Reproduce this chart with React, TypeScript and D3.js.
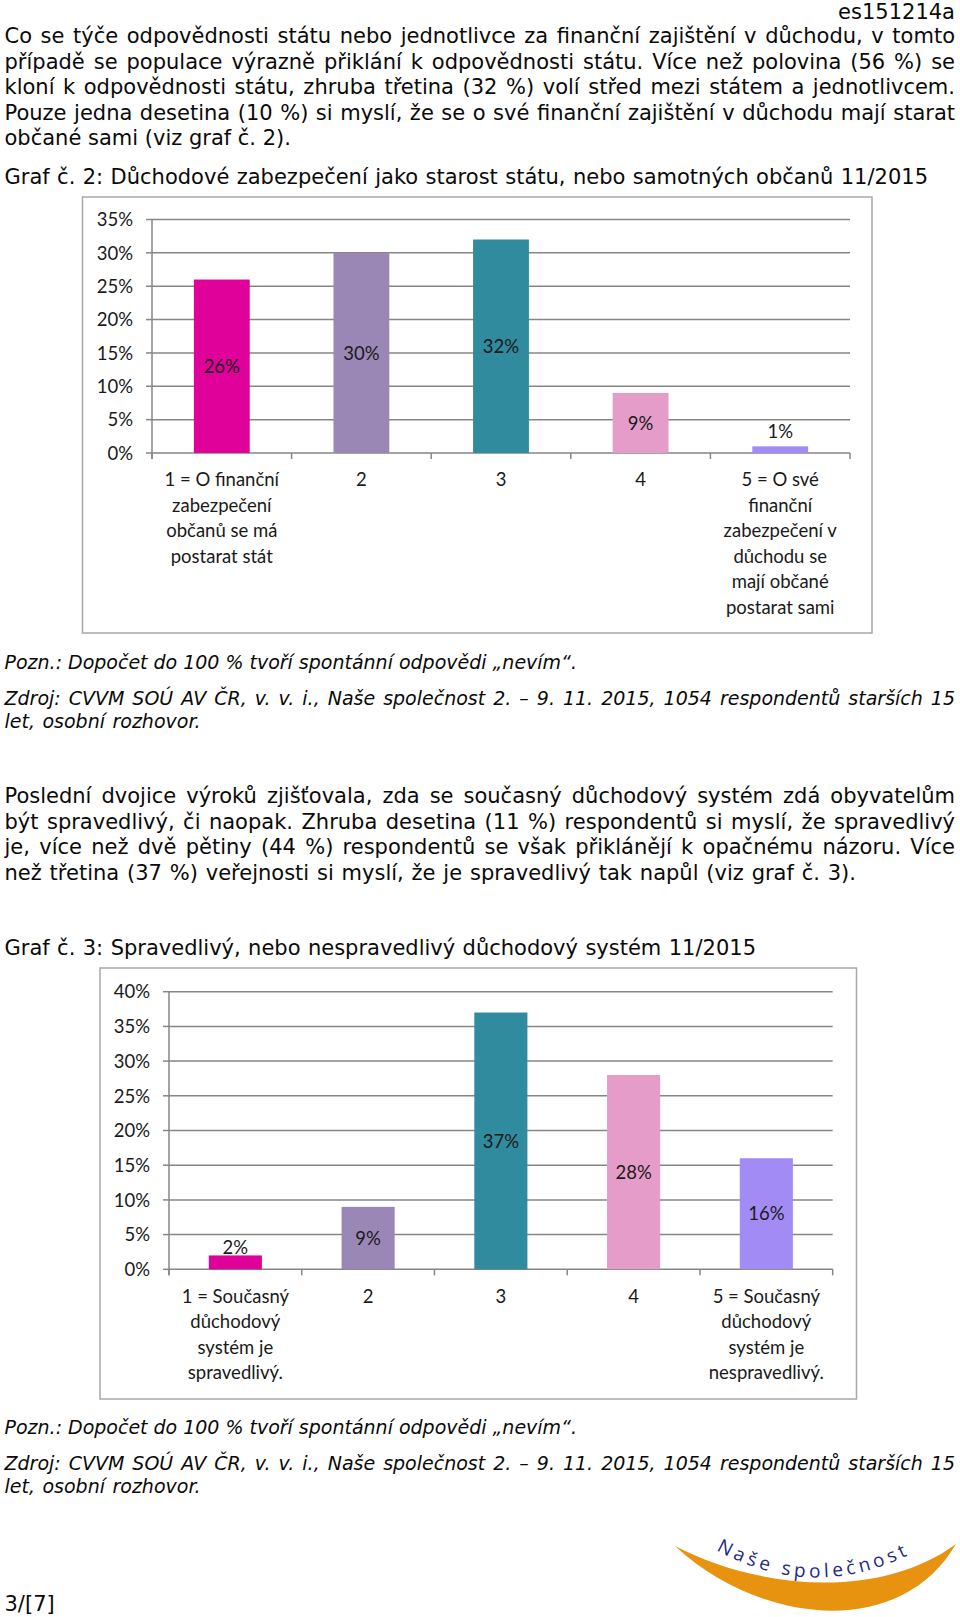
import React, { useEffect, useRef } from 'react';
import * as d3 from 'd3';

// --- text content ---
const docId = 'es151214a';
const para1 = [
  'Co se týče odpovědnosti státu nebo jednotlivce za finanční zajištění v důchodu, v tomto',
  'případě se populace výrazně přiklání k odpovědnosti státu. Více než polovina (56 %) se',
  'kloní k odpovědnosti státu, zhruba třetina (32 %) volí střed mezi státem a jednotlivcem.',
  'Pouze jedna desetina (10 %) si myslí, že se o své finanční zajištění v důchodu mají starat',
  'občané sami (viz graf č. 2).',
];
const para2 = [
  'Poslední dvojice výroků zjišťovala, zda se současný důchodový systém zdá obyvatelům',
  'být spravedlivý, či naopak. Zhruba desetina (11 %) respondentů si myslí, že spravedlivý',
  'je, více než dvě pětiny (44 %) respondentů se však přiklánějí k opačnému názoru. Více',
  'než třetina (37 %) veřejnosti si myslí, že je spravedlivý tak napůl (viz graf č. 3).',
];
const noteText = 'Pozn.: Dopočet do 100 % tvoří spontánní odpovědi „nevím“.';
const sourceText = [
  'Zdroj: CVVM SOÚ AV ČR, v. v. i., Naše společnost 2. – 9. 11. 2015, 1054 respondentů starších 15',
  'let, osobní rozhovor.',
];
const pageNo = '3/[7]';
const logoText = 'Naše společnost';

// --- chart 2 data ---
const g2Title = 'Graf č. 2: Důchodové zabezpečení jako starost státu, nebo samotných občanů 11/2015';
const g2Categories = [
  ['1 = O finanční', 'zabezpečení', 'občanů se má', 'postarat stát'],
  ['2'],
  ['3'],
  ['4'],
  ['5 = O své', 'finanční', 'zabezpečení v', 'důchodu se', 'mají občané', 'postarat sami'],
];
const g2Values = [26, 30, 32, 9, 1];
const g2Ticks = [0, 5, 10, 15, 20, 25, 30, 35];

// --- chart 3 data ---
const g3Title = 'Graf č. 3: Spravedlivý, nebo nespravedlivý důchodový systém 11/2015';
const g3Categories = [
  ['1 = Současný', 'důchodový', 'systém je', 'spravedlivý.'],
  ['2'],
  ['3'],
  ['4'],
  ['5 = Současný', 'důchodový', 'systém je', 'nespravedlivý.'],
];
const g3Values = [2, 9, 37, 28, 16];
const g3Ticks = [0, 5, 10, 15, 20, 25, 30, 35, 40];

const barColors = ['#E0009A', '#9B87B5', '#318B9E', '#E59CC9', '#A38BF6'];

const bodyFont = '"DejaVu Sans", Verdana, sans-serif';
const chartFont = 'Lato, Calibri, sans-serif';

// stretch a line to a given width (justified text)
function fitLine(sel, width) {
  const natural = sel.node().getComputedTextLength();
  const spaces = (sel.text().match(/ /g) || []).length;
  if (spaces > 0) sel.style('word-spacing', `${(width - natural) / spaces}px`);
}

function drawChart(svg, cfg) {
  const g = svg.append('g');
  g.append('rect')
    .attr('x', cfg.frame[0]).attr('y', cfg.frame[1])
    .attr('width', cfg.frame[2] - cfg.frame[0]).attr('height', cfg.frame[3] - cfg.frame[1])
    .attr('fill', '#fff').attr('stroke', '#a8a8a8').attr('stroke-width', 1.5);

  const maxT = d3.max(cfg.ticks);
  const y = d3.scaleLinear().domain([0, maxT]).range([cfg.y0, cfg.yTop]);
  const x = d3.scaleBand()
    .domain(cfg.values.map((_, i) => i))
    .range([cfg.xLeft, cfg.xRight])
    .paddingInner(0.6)
    .paddingOuter(0.3);
  const step = (cfg.xRight - cfg.xLeft) / cfg.values.length;

  // gridlines
  g.selectAll('.grid').data(cfg.ticks.filter(t => t > 0)).enter().append('line')
    .attr('x1', cfg.xLeft).attr('x2', cfg.xRight)
    .attr('y1', d => y(d)).attr('y2', d => y(d))
    .attr('stroke', '#868686').attr('stroke-width', 1.5);

  // y axis + ticks
  g.append('line').attr('x1', cfg.xLeft).attr('x2', cfg.xLeft)
    .attr('y1', y(maxT)).attr('y2', cfg.y0 + 6)
    .attr('stroke', '#868686').attr('stroke-width', 1.5);
  g.selectAll('.ytick').data(cfg.ticks).enter().append('line')
    .attr('x1', cfg.xLeft - 6).attr('x2', cfg.xLeft)
    .attr('y1', d => y(d)).attr('y2', d => y(d))
    .attr('stroke', '#868686').attr('stroke-width', 1.5);
  g.selectAll('.ylab').data(cfg.ticks).enter().append('text')
    .attr('x', cfg.labelX).attr('y', d => y(d) + 6.7)
    .attr('text-anchor', 'end')
    .attr('font-family', chartFont).attr('font-size', 18.5).attr('fill', '#1a1a1a')
    .text(d => `${d}%`);

  // x axis + ticks
  g.append('line').attr('x1', cfg.xLeft).attr('x2', cfg.xRight)
    .attr('y1', cfg.y0).attr('y2', cfg.y0)
    .attr('stroke', '#868686').attr('stroke-width', 1.5);
  g.selectAll('.xtick').data(d3.range(cfg.values.length + 1)).enter().append('line')
    .attr('x1', i => cfg.xLeft + i * step).attr('x2', i => cfg.xLeft + i * step)
    .attr('y1', cfg.y0).attr('y2', cfg.y0 + 6)
    .attr('stroke', '#868686').attr('stroke-width', 1.5);

  // bars
  g.selectAll('.bar').data(cfg.values).enter().append('rect')
    .attr('x', (_, i) => x(i))
    .attr('y', d => y(d))
    .attr('width', x.bandwidth())
    .attr('height', d => cfg.y0 - y(d))
    .attr('fill', (_, i) => barColors[i]);

  // data labels
  g.selectAll('.dlab').data(cfg.values).enter().append('text')
    .attr('x', (_, i) => x(i) + x.bandwidth() / 2)
    .attr('y', d => (cfg.y0 - y(d) > 25 ? (y(d) + cfg.y0) / 2 + 6.7 : y(d) - cfg.aboveGap))
    .attr('text-anchor', 'middle')
    .attr('font-family', chartFont).attr('font-size', 18.5).attr('fill', '#1a1a1a')
    .text(d => `${d}%`);

  // category labels
  cfg.categories.forEach((lines, i) => {
    const t = g.append('text')
      .attr('text-anchor', 'middle')
      .attr('font-family', chartFont).attr('font-size', 18.5).attr('fill', '#1a1a1a');
    lines.forEach((ln, k) => {
      t.append('tspan')
        .attr('x', x(i) + x.bandwidth() / 2)
        .attr('y', cfg.catY + k * 25.6)
        .text(ln);
    });
  });
}

const App = () => {
  const ref = useRef(null);

  useEffect(() => {
    document.body.style.margin = '0';
    const svg = d3.select(ref.current);
    svg.selectAll('*').remove();

    svg.append('rect').attr('width', 960).attr('height', 1617).attr('fill', '#fff');

    const line = (txt, xPos, yPos, width, opts = {}) => {
      const t = svg.append('text')
        .attr('x', xPos).attr('y', yPos)
        .attr('font-family', bodyFont).attr('font-size', opts.size || 21).attr('fill', '#0a0a0a')
        .attr('text-anchor', opts.anchor || 'start')
        .attr('font-style', opts.italic ? 'italic' : 'normal')
        .text(txt);
      if (width) fitLine(t, width);
      return t;
    };

    line(docId, 955, 18.5, null, { anchor: 'end' });
    para1.forEach((l, i) => line(l, 4.5, 43 + i * 25.5, i < 4 ? 950.5 : null));
    line(g2Title, 4.5, 184, 923.5, { size: 21 });

    drawChart(svg, {
      frame: [82.5, 197, 872, 633],
      xLeft: 152, xRight: 850, y0: 453, yTop: 219.5,
      labelX: 133, catY: 486, aboveGap: 8,
      ticks: g2Ticks, values: g2Values, categories: g2Categories,
    });

    line(noteText, 4.5, 669, 572.5, { italic: true, size: 19 });
    line(sourceText[0], 4.5, 705, 950.5, { italic: true, size: 19 });
    line(sourceText[1], 4.5, 728, 196, { italic: true, size: 19 });

    para2.forEach((l, i) => line(l, 4.5, 803 + i * 25.5, i < 3 ? 950.5 : 851.5));
    line(g3Title, 4.5, 955, 751.5, { size: 21 });

    drawChart(svg, {
      frame: [100, 968, 856.5, 1399],
      xLeft: 169, xRight: 832.7, y0: 1269.3, yTop: 991.7,
      labelX: 150, catY: 1302.5, aboveGap: 1.7,
      ticks: g3Ticks, values: g3Values, categories: g3Categories,
    });

    line(noteText, 4.5, 1434, 572.5, { italic: true, size: 19 });
    line(sourceText[0], 4.5, 1470, 950.5, { italic: true, size: 19 });
    line(sourceText[1], 4.5, 1493, 196, { italic: true, size: 19 });

    line(pageNo, 4.5, 1611, null);

    // logo: orange crescent with text on an arc
    const logo = svg.append('g');
    logo.append('path')
      .attr('d', 'M675,1546 C760,1590 880,1600 956,1544 C900,1640 760,1625 675,1546 Z')
      .attr('fill', '#E8930F');
    logo.append('path').attr('id', 'logoArc')
      .attr('d', 'M716,1550 Q818,1606 922,1548')
      .attr('fill', 'none');
    logo.append('text')
      .attr('font-family', '"Open Sans", sans-serif').attr('font-size', 19)
      .attr('fill', '#1F2B80')
      .append('textPath')
      .attr('href', '#logoArc')
      .attr('textLength', 200)
      .attr('lengthAdjust', 'spacing')
      .text(logoText);
  }, []);

  return <svg ref={ref} width={960} height={1617} style={{ display: 'block' }} />;
};

export default App;
